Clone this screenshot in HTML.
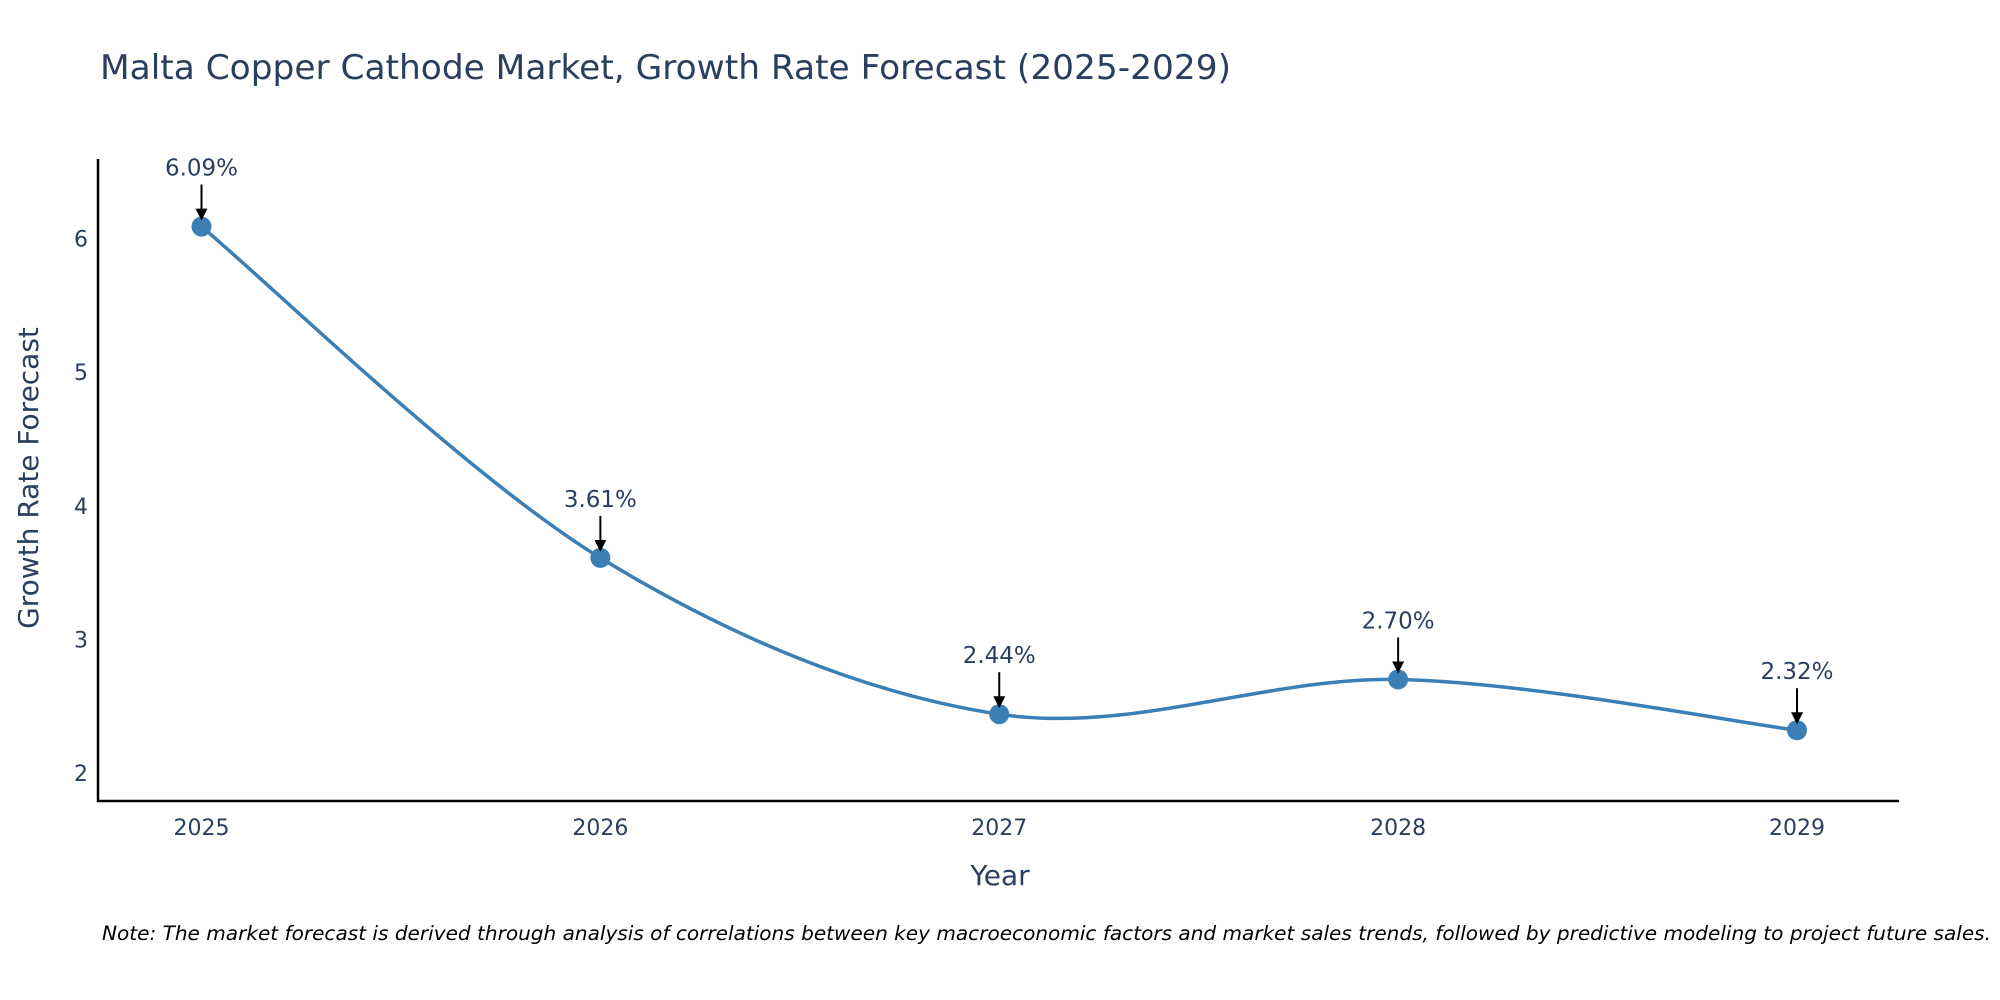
<!DOCTYPE html>
<html><head><meta charset="utf-8"><style>
html,body{margin:0;padding:0;background:#fff;}
svg{display:block;font-family:"DejaVu Sans","Liberation Sans",sans-serif;}
</style></head><body>
<svg id="chart" width="2000" height="1000" viewBox="0 0 2000 1000">
<text x="100" y="79" font-size="34" fill="#2a3f5f" textLength="1131" lengthAdjust="spacingAndGlyphs">Malta Copper Cathode Market, Growth Rate Forecast (2025-2029)</text>
<g id="axes"></g>
<g id="marks"></g>
<text x="38" y="478" font-size="28" fill="#2a3f5f" text-anchor="middle" transform="rotate(-90 38 478)">Growth Rate Forecast</text>
<text x="1000" y="885" font-size="28" fill="#2a3f5f" text-anchor="middle">Year</text>
<text x="102" y="940" font-size="19.5" font-style="italic" fill="#000" textLength="1889" lengthAdjust="spacingAndGlyphs">Note: The market forecast is derived through analysis of correlations between key macroeconomic factors and market sales trends, followed by predictive modeling to project future sales.</text>
</svg>
<script>
const categories = ["2025","2026","2027","2028","2029"];
const values = [6.09, 3.61, 2.44, 2.70, 2.32];
const labels = ["6.09%","3.61%","2.44%","2.70%","2.32%"];
const yTicks = [2,3,4,5,6];

const NS="http://www.w3.org/2000/svg";
const x0=201.5, x1=1797, yAt2=773, perUnit=133.6;
function xs(i){return x0+(x1-x0)*i/(categories.length-1);}
function ys(v){return yAt2-(v-2)*perUnit;}
function mk(tag,attrs,parent){const e=document.createElementNS(NS,tag);for(const k in attrs)e.setAttribute(k,attrs[k]);parent.appendChild(e);return e;}
const axes=document.getElementById('axes'), marks=document.getElementById('marks');

let l=mk('line',{x1:98,y1:159,x2:98,y2:802,stroke:'#000','stroke-width':2.5},axes);


l=mk('line',{x1:97,y1:801,x2:1899,y2:801,stroke:'#000','stroke-width':2.5},axes);



yTicks.forEach(t=>{
  const e=mk('text',{x:88,y:ys(t)+8,'font-size':22,fill:'#2a3f5f','text-anchor':'end'},axes);
  e.textContent=t;
  
  
});
categories.forEach((c,i)=>{
  const e=mk('text',{x:xs(i),y:835,'font-size':22,fill:'#2a3f5f','text-anchor':'middle'},axes);
  e.textContent=c;
  
  
});

const pts=values.map((v,i)=>[xs(i),ys(v)]);
let d=`M${pts[0][0]},${pts[0][1]}`;
const t=0.33;
for(let i=0;i<pts.length-1;i++){
  const p0=pts[Math.max(0,i-1)],p1=pts[i],p2=pts[i+1],p3=pts[Math.min(pts.length-1,i+2)];
  const c1=[p1[0]+(p2[0]-p0[0])*t/2,p1[1]+(p2[1]-p0[1])*t/2];
  const c2=[p2[0]-(p3[0]-p1[0])*t/2,p2[1]-(p3[1]-p1[1])*t/2];
  d+=` C${c1[0]},${c1[1]} ${c2[0]},${c2[1]} ${p2[0]},${p2[1]}`;
}
const path=mk('path',{d:d,fill:'none',stroke:'#3a7fb5','stroke-width':3.5},marks);



mk('defs',{},marks).innerHTML='<marker id="ah" markerWidth="6" markerHeight="6" refX="4" refY="3" orient="auto" markerUnits="strokeWidth"><path d="M0,0 L6,3 L0,6 z" fill="#000"/></marker>';

pts.forEach((p,i)=>{
  const c=mk('circle',{cx:p[0],cy:p[1],r:10,fill:'#3a7fb5'},marks);
  
  
  const a=mk('line',{x1:p[0],y1:p[1]-42,x2:p[0],y2:p[1]-10,stroke:'#000','stroke-width':2,'marker-end':'url(#ah)'},marks);
  
  
  const tx=mk('text',{x:p[0],y:p[1]-51,'font-size':23,fill:'#2a3f5f','text-anchor':'middle'},marks);
  tx.textContent=labels[i];
  
  
});
</script>
</body></html>
